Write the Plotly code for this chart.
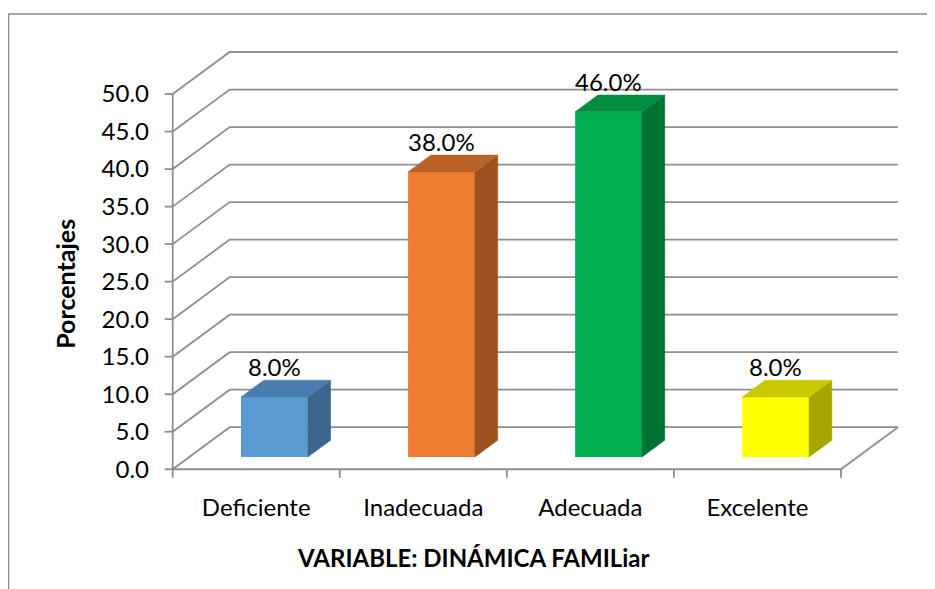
import plotly.graph_objects as go

# ---------------- data ----------------
CATEGORIES = ["Deficiente", "Inadecuada", "Adecuada", "Excelente"]
VALUES = [8.0, 38.0, 46.0, 8.0]
VALUE_LABELS = ["8.0%", "38.0%", "46.0%", "8.0%"]
Y_TICK_VALUES = [0, 5, 10, 15, 20, 25, 30, 35, 40, 45, 50]
Y_TICK_LABELS = ["0.0", "5.0", "10.0", "15.0", "20.0", "25.0", "30.0", "35.0", "40.0", "45.0", "50.0"]
X_TITLE = "VARIABLE: DINÁMICA FAMILiar"
Y_TITLE = "Porcentajes"

FRONT_COLORS = ["#5B9BD5", "#ED7D31", "#00B050", "#FFFF00"]
TOP_COLORS = ["#4A7DAD", "#BA6227", "#008D40", "#C9C900"]
SIDE_COLORS = ["#3D668D", "#9B5120", "#007233", "#A6A600"]

# ---------------- geometry / style ----------------
PAGE_OFF = 8          # default body margin of the html page
W, H = 935 - PAGE_OFF, 589 - PAGE_OFF
PX_PER_X = 167.0      # pixels per category unit
PX_PER_Y = 7.5        # pixels per percent
# pixel positions below are given in page coordinates
X0_PX, Y0_PX = 173.0 - PAGE_OFF, 469.0 - PAGE_OFF   # pixel position of data (0, 0)
X_MIN, Y_MIN = -0.07, -1.3
TOP_PX, RIGHT_PX = 20.0 - PAGE_OFF, 925.0 - PAGE_OFF

DX, DY = 0.341, 5.6   # full depth of the floor (x units, y units)
Z0, Z1 = 0.29, 0.69   # bar depth span (fraction of full depth)
BAR_W = 0.4
BAR_C = 0.51

GRID = "#8e8e8e"
FONT = "Lato"

l = X0_PX + X_MIN * PX_PER_X
b_px = Y0_PX - Y_MIN * PX_PER_Y
X_MAX = (RIGHT_PX - X0_PX) / PX_PER_X
Y_MAX = (Y0_PX - TOP_PX) / PX_PER_Y
plot_w = RIGHT_PX - l
plot_h = b_px - TOP_PX


def paper_x(px):
    return (px - PAGE_OFF - l) / plot_w


def paper_y(py):
    return (b_px - (py - PAGE_OFF)) / plot_h


fig = go.Figure()

n = len(CATEGORIES)
# front faces as bars
fig.add_trace(go.Bar(
    x=[i + BAR_C + Z0 * DX for i in range(n)],
    y=VALUES,
    base=[Z0 * DY] * n,
    width=BAR_W,
    marker=dict(color=FRONT_COLORS, line=dict(width=0)),
    showlegend=False,
    hoverinfo="skip",
))

# side and top faces
for i, v in enumerate(VALUES):
    xl = i + BAR_C - BAR_W / 2 + Z0 * DX
    xr = i + BAR_C + BAR_W / 2 + Z0 * DX
    ddx = (Z1 - Z0) * DX
    ddy = (Z1 - Z0) * DY
    yb = Z0 * DY
    yt = v + Z0 * DY
    fig.add_trace(go.Scatter(
        x=[xr, xr + ddx, xr + ddx, xr, xr],
        y=[yb, yb + ddy, yt + ddy, yt, yb],
        fill="toself", fillcolor=SIDE_COLORS[i], mode="lines",
        line=dict(width=0.5, color=SIDE_COLORS[i]),
        showlegend=False, hoverinfo="skip",
    ))
    fig.add_trace(go.Scatter(
        x=[xl, xr, xr + ddx, xl + ddx, xl],
        y=[yt, yt, yt + ddy, yt + ddy, yt],
        fill="toself", fillcolor=TOP_COLORS[i], mode="lines",
        line=dict(width=0.5, color=TOP_COLORS[i]),
        showlegend=False, hoverinfo="skip",
    ))
    fig.add_annotation(
        x=i + BAR_C + Z0 * DX, y=v + Z1 * DY, xref="x", yref="y",
        text=VALUE_LABELS[i], showarrow=False, xanchor="center", yanchor="bottom", yshift=-3,
        font=dict(family=FONT, size=24, color="#000000"),
    )

shapes = []
line_style = dict(color=GRID, width=1.8)
# walls: side diagonals + back gridlines
for v in Y_TICK_VALUES:
    shapes.append(dict(type="path", xref="x", yref="y", layer="below",
                       path=f"M 0,{v} L {DX},{v + DY} L {n + DX},{v + DY}",
                       line=line_style))
# floor
shapes.append(dict(type="path", xref="x", yref="y", layer="below",
                   path=f"M 0,0 L {n},0 L {n + DX},{DY}", line=line_style))
# vertical axis line
shapes.append(dict(type="path", xref="x", yref="y", layer="below",
                   path=f"M 0,0 L 0,{Y_TICK_VALUES[-1]}", line=line_style))
# y tick marks
tl_x = 8.0 / PX_PER_X
for v in Y_TICK_VALUES:
    shapes.append(dict(type="line", xref="x", yref="y", layer="below",
                       x0=-tl_x, x1=0, y0=v, y1=v, line=line_style))
# x category separators
tl_y = 8.5 / PX_PER_Y
for i in range(n + 1):
    shapes.append(dict(type="line", xref="x", yref="y", layer="below",
                       x0=i, x1=i, y0=0, y1=-tl_y, line=line_style))
# chart border
shapes.append(dict(type="rect", xref="paper", yref="paper",
                   x0=paper_x(9), x1=paper_x(960), y0=paper_y(620), y1=paper_y(14),
                   line=dict(color="#8a8a8a", width=1.3), fillcolor="rgba(0,0,0,0)"))

fig.add_annotation(x=paper_x(474), y=paper_y(557), xref="paper", yref="paper",
                   text=f"<b>{X_TITLE}</b>", showarrow=False,
                   xanchor="center", yanchor="middle",
                   font=dict(family=FONT, size=24, color="#000000"))
fig.add_annotation(x=paper_x(65), y=paper_y(284), xref="paper", yref="paper",
                   text=f"<b>{Y_TITLE}</b>", showarrow=False, textangle=-90,
                   xanchor="center", yanchor="middle",
                   font=dict(family=FONT, size=25, color="#000000"))

fig.update_layout(
    width=W, height=H,
    margin=dict(l=l, r=W - RIGHT_PX, t=TOP_PX, b=H - b_px, pad=0),
    paper_bgcolor="white", plot_bgcolor="white",
    shapes=shapes,
    showlegend=False,
    font=dict(family=FONT, size=24, color="#000000"),
    xaxis=dict(range=[X_MIN, X_MAX], showgrid=False, zeroline=False, showline=False,
               tickmode="array", tickvals=[i + 0.5 for i in range(n)], ticktext=CATEGORIES,
               ticks="", ticklabelstandoff=12, automargin=False, fixedrange=True),
    yaxis=dict(range=[Y_MIN, Y_MAX], showgrid=False, zeroline=False, showline=False,
               tickmode="array", tickvals=Y_TICK_VALUES, ticktext=Y_TICK_LABELS,
               ticks="", ticklabelstandoff=11, automargin=False, fixedrange=True),
)

fig.write_html("out.html")
